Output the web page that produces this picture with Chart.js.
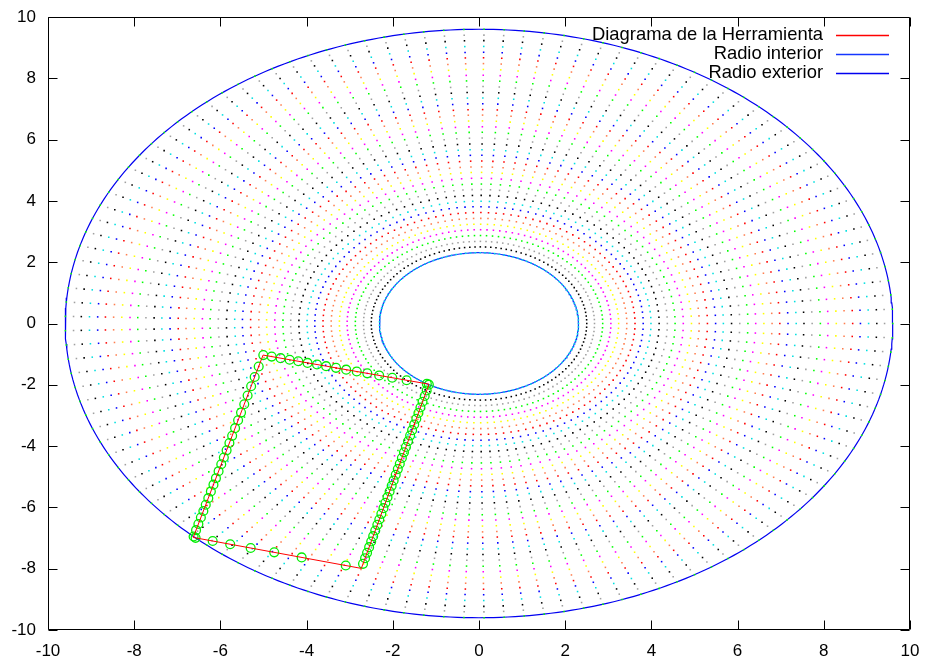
<!DOCTYPE html>
<html>
<head>
<meta charset="utf-8">
<script src="https://cdn.jsdelivr.net/npm/chart.js@4.4.1/dist/chart.umd.min.js"></script>
<style>
  html, body { margin: 0; padding: 0; background: #fff; }
  #wrap { width: 928px; height: 662px; }
</style>
</head>
<body>
<div id="wrap"><canvas id="chart"></canvas></div>
<script>
// axis ticks
const tickValues = [-10, -8, -6, -4, -2, 0, 2, 4, 6, 8, 10];

// inner / outer radius of the wheel
const innerRadius = 2.31;
const outerRadius = 9.60;

// radii of the dotted rings (first = inner radius, last = outer radius)
const ringRadii = [
    2.31, 2.50, 2.68, 2.87, 3.06, 3.24, 3.43, 3.62, 3.81, 3.99,
    4.18, 4.37, 4.55, 4.74, 4.93, 5.11, 5.30, 5.49, 5.67, 5.86,
    6.05, 6.24, 6.42, 6.61, 6.80, 6.98, 7.17, 7.36, 7.54, 7.73,
    7.92, 8.10, 8.29, 8.48, 8.67, 8.85, 9.04, 9.23, 9.41, 9.60,
];
// colour of each ring, repeating
const ringColors = ['#00e0e0', '#000000', '#a0a0a0', '#00ff00', '#ff00ff', '#ffff00', '#ff7f50', '#ff0000', '#0000ff'];
// number of dots on every ring (spokes)
const spokeCount = 129;

// tool outline corners
const toolX = [-6.63, -5.01, -1.16, -2.73];
const toolY = [-6.98, -1.03, -1.98, -7.99];

const legendLabels = ['Diagrama de la Herramienta', 'Radio interior', 'Radio exterior'];
const legendColors = ['#ff0000', '#1436ff', '#0000f0'];

const FONT = '"Liberation Sans", Arial, Helvetica, sans-serif';

const circlePoints = (r) => {
    const pts = [];
    for (let i = 0; i <= 360; i++) {
        const a = i * Math.PI / 180;
        pts.push({ x: r * Math.cos(a), y: r * Math.sin(a) });
    }
    return pts;
};

const ringDots = (r) => {
    const pts = [];
    for (let k = 0; k < spokeCount; k++) {
        const a = k * 2 * Math.PI / spokeCount;
        pts.push({ x: r * Math.cos(a), y: r * Math.sin(a) });
    }
    return pts;
};

// closed outline
const toolOutline = toolX.map((x, i) => ({ x, y: toolY[i] }));
toolOutline.push({ x: toolX[0], y: toolY[0] });

// where the outline crosses the rings
const toolMarks = [];
for (let i = 0; i < toolX.length; i++) {
    const x0 = toolX[i], y0 = toolY[i];
    const x1 = toolX[(i + 1) % toolX.length], y1 = toolY[(i + 1) % toolY.length];
    const dx = x1 - x0, dy = y1 - y0;
    const a = dx * dx + dy * dy, b = 2 * (x0 * dx + y0 * dy), c0 = x0 * x0 + y0 * y0;
    ringRadii.forEach(r => {
        const disc = b * b - 4 * a * (c0 - r * r);
        if (disc < 0) return;
        const s = Math.sqrt(disc);
        [(-b - s) / (2 * a), (-b + s) / (2 * a)].forEach(t => {
            if (t >= 0 && t < 1) toolMarks.push({ x: x0 + t * dx, y: y0 + t * dy });
        });
    });
}

const datasets = [
    {
        label: legendLabels[0],
        data: toolOutline,
        showLine: true,
        borderColor: legendColors[0],
        borderWidth: 1,
        pointRadius: 0,
        order: 0,
    },
    {
        label: 'marks',
        data: toolMarks,
        showLine: false,
        pointStyle: 'circle',
        pointRadius: 4.4,
        borderColor: '#00ee00',
        backgroundColor: 'rgba(0,0,0,0)',
        borderWidth: 1.3,
        order: 1,
    },
];

ringRadii.forEach((r, i) => {
    datasets.push({
        label: 'ring' + i,
        data: ringDots(r),
        showLine: false,
        pointStyle: 'rect',
        pointRadius: 1.1,
        borderWidth: 0,
        backgroundColor: ringColors[i % ringColors.length],
        order: 2,
    });
});

datasets.push({
    label: legendLabels[1],
    data: circlePoints(innerRadius),
    showLine: true,
    borderColor: legendColors[1],
    borderWidth: 1.2,
    pointRadius: 0,
    order: 3,
});
datasets.push({
    label: legendLabels[2],
    data: circlePoints(outerRadius),
    showLine: true,
    borderColor: legendColors[2],
    borderWidth: 1.2,
    pointRadius: 0,
    order: 3,
});

// border, inward ticks on all sides, and the legend
const framePlugin = {
    id: 'frame',
    afterDraw(chart) {
        const { ctx, chartArea: ca, scales } = chart;
        const L = Math.round(ca.left) + 0.5, R = Math.round(ca.right) - 0.5;
        const T = Math.round(ca.top) + 0.5, B = Math.round(ca.bottom) - 0.5;
        const tl = 9;
        ctx.save();
        ctx.strokeStyle = '#000';
        ctx.lineWidth = 1;
        ctx.beginPath();
        ctx.rect(L, T, R - L, B - T);
        tickValues.forEach(v => {
            const px = Math.round(scales.x.getPixelForValue(v)) + 0.5;
            ctx.moveTo(px, B); ctx.lineTo(px, B - tl);
            ctx.moveTo(px, T); ctx.lineTo(px, T + tl);
            const py = Math.round(scales.y.getPixelForValue(v)) + 0.5;
            ctx.moveTo(L, py); ctx.lineTo(L + tl, py);
            ctx.moveTo(R, py); ctx.lineTo(R - tl, py);
        });
        ctx.stroke();
        ctx.restore();

        legendLabels.forEach((txt, i) => {
            const y = 35 + i * 19;
            ctx.save();
            ctx.font = '18.4px ' + FONT;
            ctx.textAlign = 'right';
            ctx.textBaseline = 'middle';
            ctx.fillStyle = '#000';
            ctx.fillText(txt, 823, y);
            ctx.restore();
            ctx.save();
            ctx.lineWidth = 1.3;
            ctx.strokeStyle = legendColors[i];
            ctx.beginPath();
            ctx.moveTo(836, y + 0.5);
            ctx.lineTo(889, y + 0.5);
            ctx.stroke();
            ctx.restore();
        });
    }
};

const axisOpts = (fitSide, pad) => ({
    type: 'linear',
    min: -10,
    max: 10,
    afterBuildTicks: (s) => { s.ticks = tickValues.map(v => ({ value: v })); },
    afterFit: fitSide,
    grid: { display: false },
    border: { display: false },
    ticks: {
        color: '#000',
        font: { family: FONT, size: 17 },
        autoSkip: false,
        maxRotation: 0,
        padding: pad,
    },
});

new Chart(document.getElementById('chart'), {
    type: 'scatter',
    data: { datasets },
    options: {
        responsive: true,
        maintainAspectRatio: false,
        animation: false,
        events: [],
        layout: { autoPadding: false, padding: { top: 17, right: 18, left: 0, bottom: 0 } },
        scales: {
            x: axisOpts((s) => { s.height = 32; }, 3),
            y: axisOpts((s) => { s.width = 48; }, 4),
        },
        plugins: {
            legend: { display: false },
            tooltip: { enabled: false },
        },
    },
    plugins: [framePlugin],
});
</script>
</body>
</html>
